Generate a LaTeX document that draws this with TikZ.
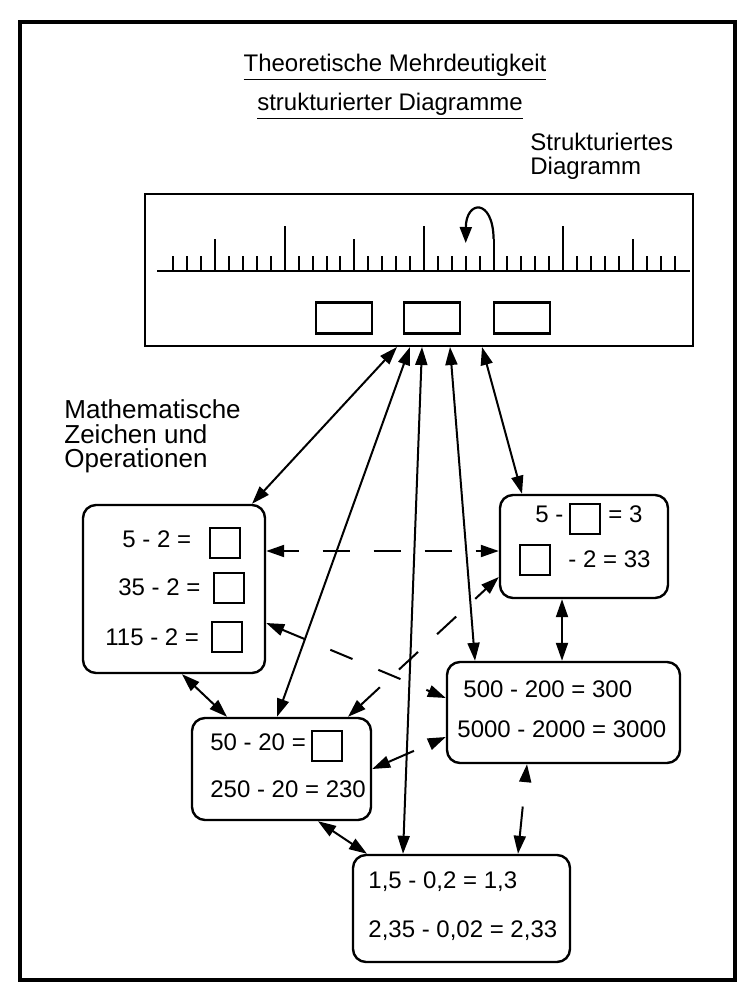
\documentclass[tikz,border=0pt]{standalone}
\usepackage{fontspec}
\setmainfont{Liberation Sans}
\usetikzlibrary{arrows.meta}

\tikzset{
  eqbox/.style={draw, line width=1.2pt, rounded corners=6.5pt, inner sep=0pt},
  blank/.style={draw, line width=1pt, minimum width=15pt, minimum height=15pt, inner sep=0pt},
  slot/.style={draw, line width=1.1pt, minimum width=28pt, minimum height=15.5pt, inner sep=0pt},
  eq/.style={anchor=base west, inner sep=0pt, font=\fontsize{12}{14}\selectfont},
  label/.style={anchor=north west, inner sep=0pt, align=left},
  link/.style={line width=1pt, {Triangle[length=9pt,width=6pt]}-{Triangle[length=9pt,width=6pt]}},
  dashlink/.style={link, dash pattern=on 13pt off 13pt},
}

\begin{document}
\begin{tikzpicture}[x=0.5pt, y=-0.5pt]
    \useasboundingbox (0,0) rectangle (747,994);
    % Frame
    \draw [line width=2pt] (20,22) rectangle (735,980);

    % Titles & labels
    \node [font=\fontsize{12}{14}\selectfont] (title1) at (395,67) {\underline{Theoretische Mehrdeutigkeit}};
    \node [font=\fontsize{12}{14}\selectfont] (title2) at (390,106) {\underline{strukturierter Diagramme}};
    \node [label, font=\fontsize{12}{12}\selectfont] (diaglabel) at (530,133) {Strukturiertes\\Diagramm};
    \node [label, font=\fontsize{13}{12.4}\selectfont] (mathlabel) at (64,399) {Mathematische\\Zeichen und\\Operationen};

    % Structured diagram
    \node [draw, line width=1pt, minimum width=274pt, minimum height=76pt, inner sep=0pt] (diag) at (419,270) {};
    \draw [line width=1.2pt] (157,271) -- (690,271);
    \foreach \i in {0,...,36} {
        \pgfmathsetmacro\ticklen{ifthenelse(mod(\i,10)==8,45,ifthenelse(mod(\i,5)==3,32,15))}
        \draw [line width=1pt] (173.4+13.92*\i,271) -- ++(0,-\ticklen);
    }
    \draw [line width=1.1pt,-{Triangle[length=8pt,width=6pt]}] (493.6,239)
        .. controls (493,198) and (466,200) .. (465.7,243);
    \node [slot] (slot1) at (344,318) {};
    \node [slot] (slot2) at (432,318) {};
    \node [slot] (slot3) at (522,318) {};

    % Left box
    \node [eqbox, minimum width=91pt, minimum height=84pt] (left) at (174,589) {};
    \node [eq] at (122,547) {5 - 2 =};
    \node [eq] at (118,595) {35 - 2 =};
    \node [eq] at (105,645) {115 - 2 =};
    \node [blank] (b1) at (225,543) {};
    \node [blank] (b2) at (229,588) {};
    \node [blank] (b3) at (227,637) {};

    % Right box
    \node [eqbox, minimum width=84pt, minimum height=51.5pt] (right) at (584,546.5) {};
    \node [eq] at (535,522) {5 -};
    \node [blank] (b4) at (585,519) {};
    \node [eq] at (608,522) {= 3};
    \node [blank] (b5) at (535,560) {};
    \node [eq] at (568,567) {- 2 = 33};

    % Middle boxes
    \node [eqbox, minimum width=116.5pt, minimum height=50.5pt] (midright) at (563.5,712.5) {};
    \node [eq] at (463,697) {500 - 200 = 300};
    \node [eq] at (457,737) {5000 - 2000 = 3000};
    \node [eqbox, minimum width=89.5pt, minimum height=51pt] (midleft) at (281.5,769) {};
    \node [eq] at (210,750) {50 - 20 =};
    \node [blank] (b6) at (327,746) {};
    \node [eq] at (210,797) {250 - 20 = 230};

    % Bottom box
    \node [eqbox, minimum width=108.5pt, minimum height=53.5pt] (bottom) at (461.5,908.5) {};
    \node [eq] at (368,888) {1,5 - 0,2 = 1,3};
    \node [eq] at (368,937) {2,35 - 0,02 = 2,33};

    % Links from the diagram
    \draw [link] (diag.south -| 397,0) -- (left.north -| 252,0);
    \draw [link] (diag.south -| 410,0) -- (midleft.north -| 277,0);
    \draw [link] (diag.south -| 422,0) -- (bottom.north -| 403,0);
    \draw [link] (diag.south -| 450,0) -- (midright.north -| 475,0);
    \draw [link] (diag.south -| 482,0) -- (right.north -| 522,0);

    % Links between the boxes
    \draw [link] (left.south -| 182,0) -- (midleft.north -| 227,0);
    \draw [link] (right.south -| 562,0) -- (midright.north -| 562,0);
    \draw [link] (midleft.south -| 318,0) -- (bottom.north -| 367,0);
    \draw [dashlink, dash pattern=on 13.5pt off 12pt, dash phase=6pt] (left.east |- 0,551) -- (right.west |- 0,551);
    \draw [dashlink, dash pattern=on 12pt off 14pt] (left.east |- 0,623) -- (midright.west |- 0,698);
    \draw [dashlink] (midleft.north -| 348,0) -- (right.west |- 0,577);
    \draw [dashlink, dash pattern=on 14pt off 40pt] (midleft.east |- 0,769) -- (midright.west |- 0,737);
    \draw [dashlink, dash pattern=on 15pt off 40pt] (bottom.north -| 518,0) -- (midright.south -| 527,0);
\end{tikzpicture}
\end{document}
